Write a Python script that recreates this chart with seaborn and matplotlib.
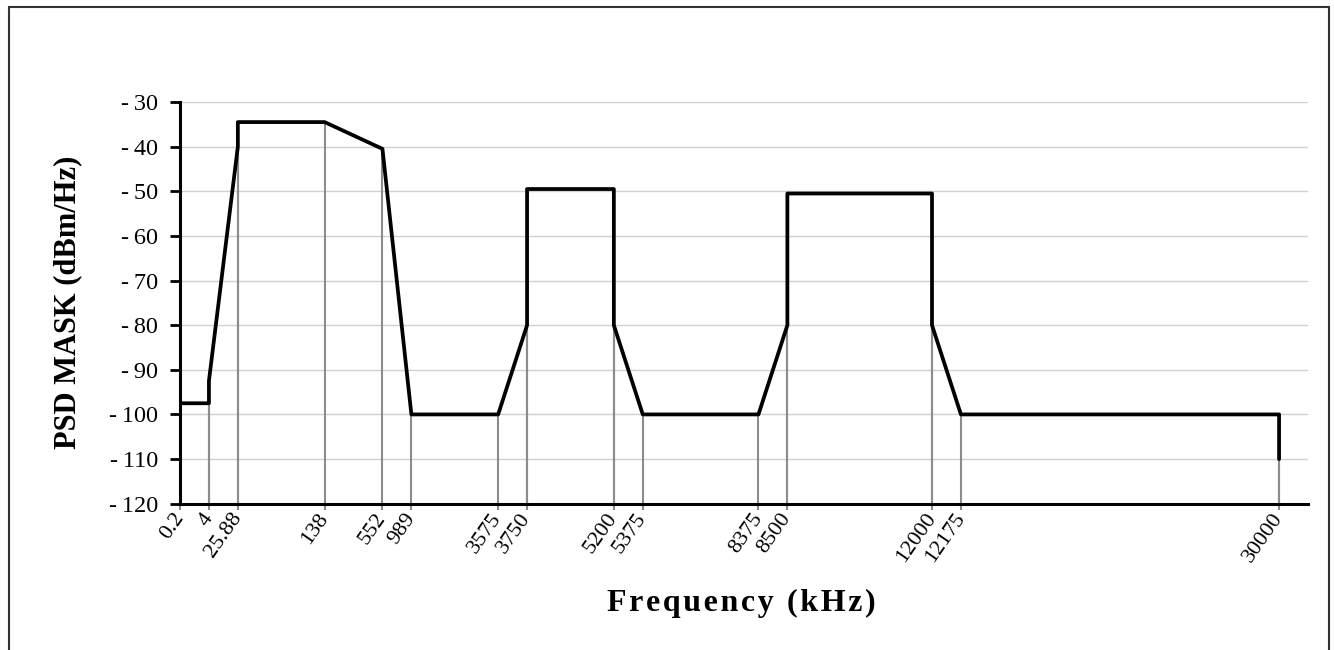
import matplotlib
matplotlib.use("Agg")
import matplotlib.pyplot as plt
from matplotlib.patches import Rectangle
import seaborn as sns
import pandas as pd
import numpy as np

# ---- data ----
tick_labels = ['0.2', '4', '25.88', '138', '552', '989', '3575', '3750',
               '5200', '5375', '8375', '8500', '12000', '12175', '30000']
tick_slots = [0, 1, 2, 5, 7, 8, 11, 12, 15, 16, 20, 21, 26, 27, 38]

freq_points = ['0.2', '4', '4', '25.88', '25.88', '138', '552', '989', '3575',
               '3750', '3750', '5200', '5200', '5375', '8375', '8500', '8500',
               '12000', '12000', '12175', '30000', '30000']
psd_values = [-97.5, -97.5, -92.5, -40, -34.5, -34.5, -40.5, -100, -100,
              -80, -49.5, -49.5, -80, -100, -100, -80, -50.5,
              -50.5, -80, -100, -100, -110]

y_ticks = [-120, -110, -100, -90, -80, -70, -60, -50, -40, -30]

# ---- build frame ----
slot_of = dict(zip(tick_labels, tick_slots))
df = pd.DataFrame({
    'slot': [slot_of[f] for f in freq_points],
    'psd': psd_values,
})

sns.set_theme(style='white')
plt.rcParams['font.family'] = ['Liberation Serif', 'DejaVu Serif']
plt.rcParams['axes.unicode_minus'] = False
for k in ['text.color', 'axes.labelcolor', 'xtick.color', 'ytick.color']:
    plt.rcParams[k] = 'black'

fig = plt.figure(figsize=(13.35, 6.5), dpi=100)
ax = fig.add_axes([180 / 1335, 1 - 503.7 / 650, (1308 - 180) / 1335, (503.7 - 102) / 650])

ymin = y_ticks[0]
# gridlines
for yv in y_ticks[1:]:
    ax.axhline(yv, color='#d0d0d0', lw=1.0, zorder=0)

# drop lines
ax.vlines(df['slot'], ymin, df['psd'], colors='#8c8c8c', lw=1.5, zorder=1)

sns.lineplot(data=df, x='slot', y='psd', sort=False, estimator=None,
             color='black', lw=2.7, ax=ax, zorder=3)

ax.set_xlim(0, 39)
ax.set_ylim(-120, -30)
ax.set_yticks(y_ticks)
ax.set_yticklabels([str(v).replace('-', '-\u2009') for v in y_ticks],
                   fontsize=17.5, color='black')
ax.set_xticks(tick_slots)
ax.set_xticklabels(tick_labels, fontsize=16, rotation=55, color='black',
                   ha='right', va='center', rotation_mode='anchor')

for s in ['top', 'right']:
    ax.spines[s].set_visible(False)
for s in ['left', 'bottom']:
    ax.spines[s].set_color('black')
    ax.spines[s].set_linewidth(2.2)
ax.spines['left'].set_zorder(4)
ax.spines['bottom'].set_zorder(4)

ax.tick_params(axis='y', which='major', direction='out', length=7, width=2,
               color='black', pad=9, left=True)
ax.tick_params(axis='x', which='major', direction='out', length=4, width=1.5,
               color='#8c8c8c', pad=4, bottom=True)

ax.set_xlabel('')
ax.set_ylabel('')

xlabel_text = '\u200a'.join('Frequency (kHz)')
fig.text(741 / 1335, 1 - 603 / 650, xlabel_text, fontsize=23,
         fontweight='bold', ha='center', va='center', color='black')
fig.text(68 / 1335, 1 - 302 / 650, 'PSD MASK (dBm/Hz)', fontsize=22,
         fontweight='bold', ha='center', va='center', rotation=90, color='black')

# chart border
fig.patches.append(Rectangle((9 / 1335, -0.2), (1329 - 9) / 1335, 0.2 + 1 - 7 / 650,
                             transform=fig.transFigure, fill=False,
                             edgecolor='#333333', lw=1.5))

fig.savefig('out.png', dpi=100)
